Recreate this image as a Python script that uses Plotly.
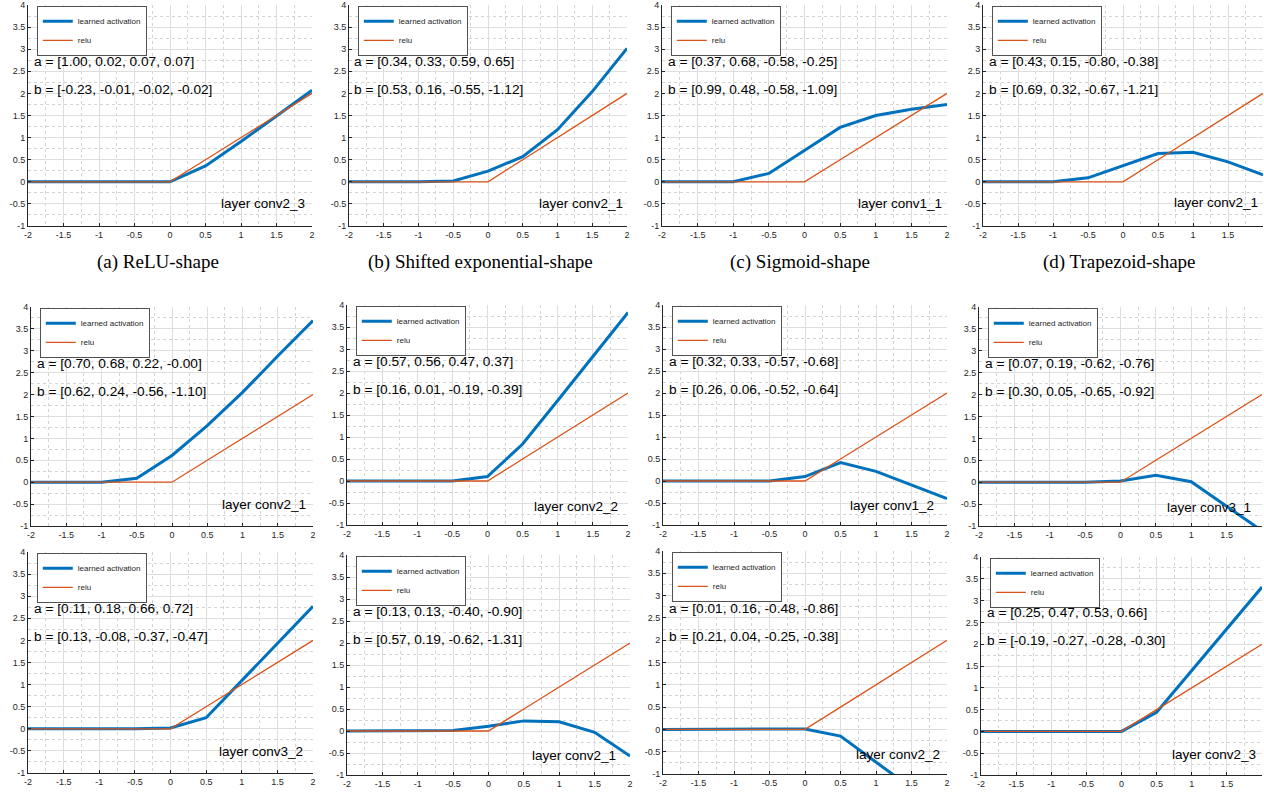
import plotly.graph_objects as go

# ---------------- data ----------------
x_vals = [-2, -1.5, -1, -0.5, 0, 0.5, 1, 1.5, 2]
relu_vals = [0, 0, 0, 0, 0, 0.5, 1, 1.5, 2]

learned = [
    [0, 0, 0, 0, 0, 0.36, 0.91, 1.49, 2.07],
    [0, 0, 0, 0.02, 0.24, 0.57, 1.18, 2.04, 3.02],
    [0, 0, 0, 0.19, 0.71, 1.23, 1.50, 1.64, 1.75],
    [0, 0, 0, 0.09, 0.36, 0.64, 0.67, 0.45, 0.16],
    [0, 0, 0, 0.09, 0.61, 1.29, 2.05, 2.88, 3.69],
    [0, 0, 0, 0, 0.10, 0.84, 1.83, 2.83, 3.83],
    [0, 0, 0, 0, 0.10, 0.42, 0.22, -0.09, -0.40],
    [0, 0, 0, 0, 0.03, 0.16, 0.01, -0.55, -1.11],
    [0, 0, 0, 0, 0.02, 0.25, 1.09, 1.93, 2.77],
    [0, 0, 0, 0.01, 0.11, 0.23, 0.21, -0.03, -0.57],
    [0, 0, 0, 0, 0.01, -0.15, -0.72, -1.30, -1.90],
    [0, 0, 0, 0, 0, 0.44, 1.39, 2.34, 3.31],
]

a_texts = [
    "a = [1.00, 0.02, 0.07, 0.07]", "a = [0.34, 0.33, 0.59, 0.65]",
    "a = [0.37, 0.68, -0.58, -0.25]", "a = [0.43, 0.15, -0.80, -0.38]",
    "a = [0.70, 0.68, 0.22, -0.00]", "a = [0.57, 0.56, 0.47, 0.37]",
    "a = [0.32, 0.33, -0.57, -0.68]", "a = [0.07, 0.19, -0.62, -0.76]",
    "a = [0.11, 0.18, 0.66, 0.72]", "a = [0.13, 0.13, -0.40, -0.90]",
    "a = [0.01, 0.16, -0.48, -0.86]", "a = [0.25, 0.47, 0.53, 0.66]",
]
b_texts = [
    "b = [-0.23, -0.01, -0.02, -0.02]", "b = [0.53, 0.16, -0.55, -1.12]",
    "b = [0.99, 0.48, -0.58, -1.09]", "b = [0.69, 0.32, -0.67, -1.21]",
    "b = [0.62, 0.24, -0.56, -1.10]", "b = [0.16, 0.01, -0.19, -0.39]",
    "b = [0.26, 0.06, -0.52, -0.64]", "b = [0.30, 0.05, -0.65, -0.92]",
    "b = [0.13, -0.08, -0.37, -0.47]", "b = [0.57, 0.19, -0.62, -1.31]",
    "b = [0.21, 0.04, -0.25, -0.38]", "b = [-0.19, -0.27, -0.28, -0.30]",
]
layer_names = [
    "layer conv2_3", "layer conv2_1", "layer conv1_1", "layer conv2_1",
    "layer conv2_1", "layer conv2_2", "layer conv1_2", "layer conv3_1",
    "layer conv3_2", "layer conv2_1", "layer conv2_2", "layer conv2_3",
]
layer_x = [0.69, 0.71, 0.72, 0.70, 0.68, 0.64, 0.61, 0.63, 0.65, 0.59, 0.69, 0.69]
layer_y = [-0.48, -0.48, -0.50, -0.46, -0.52, -0.59, -0.55, -0.57, -0.52, -0.55, -0.57, -0.54]

captions = ["(a) ReLU-shape", "(b) Shifted exponential-shape",
            "(c) Sigmoid-shape", "(d) Trapezoid-shape"]
caption_x = [158, 480, 800, 1119]

x_ticks = [-2, -1.5, -1, -0.5, 0, 0.5, 1, 1.5, 2]
x_ticklabels = ["-2", "-1.5", "-1", "-0.5", "0", "0.5", "1", "1.5", "2"]
y_ticks = [-1, -0.5, 0, 0.5, 1, 1.5, 2, 2.5, 3, 3.5, 4]
y_ticklabels = ["-1", "-0.5", "0", "0.5", "1", "1.5", "2", "2.5", "3", "3.5", "4"]

# ---------------- layout (pixel boxes: left, right, top, bottom) ----------------
W, H = 1264, 795
boxes = [
    (28, 312, 5, 226), (349, 627, 5, 226), (662, 947, 5, 226), (983, 1263, 5, 226),
    (31, 313, 307, 526), (347, 628, 305, 525), (663, 947, 305, 525), (979, 1262, 307, 526),
    (28, 313, 552, 773), (347, 630, 555, 775), (663, 947, 551, 774), (981, 1262, 557, 775),
]

BLUE = "#0072BD"
ORANGE = "#D95319"
AXC = "#262626"
FONT = "Liberation Sans, Arial, Helvetica, sans-serif"

fig = go.Figure()
layout = dict(
    width=W, height=H, margin=dict(l=0, r=0, t=0, b=0),
    paper_bgcolor="white", plot_bgcolor="white",
    template="none", font=dict(family=FONT, color=AXC),
    annotations=[],
)

for i in range(12):
    n = i + 1
    sfx = "" if n == 1 else str(n)
    L, R, T, B = boxes[i]
    lg = "legend" if n == 1 else f"legend{n}"
    fig.add_trace(go.Scatter(
        x=x_vals, y=learned[i], mode="lines", name="learned activation",
        line=dict(color=BLUE, width=3), xaxis="x" + sfx, yaxis="y" + sfx,
        legend=lg, showlegend=True))
    fig.add_trace(go.Scatter(
        x=x_vals, y=relu_vals, mode="lines", name="relu",
        line=dict(color=ORANGE, width=1.3), xaxis="x" + sfx, yaxis="y" + sfx,
        legend=lg, showlegend=True))

    common = dict(
        showgrid=True, gridcolor="#dedede", gridwidth=1, zeroline=False,
        showline=True, linecolor=AXC, linewidth=1, mirror=False,
        ticks="inside", ticklen=3, tickcolor=AXC, tickwidth=0.8,
        tickfont=dict(size=9, color=AXC, family=FONT),
        automargin=False, fixedrange=True,
    )
    layout["xaxis" + sfx] = dict(
        common, domain=[L / W, R / W], range=[-2, 2], anchor="y" + sfx,
        tickvals=x_ticks, ticktext=x_ticklabels,
        minor=dict(dtick=0.25, tick0=-2, showgrid=True, gridcolor="#d4d4d4",
                   griddash="dot", gridwidth=1, ticks=""))
    layout["yaxis" + sfx] = dict(
        common, domain=[1 - B / H, 1 - T / H], range=[-1, 4], anchor="x" + sfx,
        tickvals=y_ticks, ticktext=y_ticklabels,
        minor=dict(dtick=0.25, tick0=-1, showgrid=True, gridcolor="#d4d4d4",
                   griddash="dot", gridwidth=1, ticks=""))
    layout[lg] = dict(
        x=(L + 9) / W, y=1 - (T + 1) / H, xanchor="left", yanchor="top",
        bgcolor="white", bordercolor=AXC, borderwidth=0.8,
        font=dict(size=8, color=AXC, family=FONT), itemwidth=30,
        tracegroupgap=0, traceorder="normal")

    for txt, yv in ((a_texts[i], 2.72), (b_texts[i], 2.08)):
        layout["annotations"].append(dict(
            x=-1.95, y=yv, xref="x" + sfx, yref="y" + sfx, text=txt,
            showarrow=False, xanchor="left", yanchor="middle",
            font=dict(size=13.7, color="black", family=FONT)))
    layout["annotations"].append(dict(
        x=layer_x[i], y=layer_y[i], xref="x" + sfx, yref="y" + sfx,
        text=layer_names[i], showarrow=False, xanchor="left", yanchor="middle",
        font=dict(size=13.5, color="black", family=FONT)))

for c, cx in zip(captions, caption_x):
    layout["annotations"].append(dict(
        x=cx / W, y=1 - 262 / H, xref="paper", yref="paper", text=c,
        showarrow=False, xanchor="center", yanchor="middle",
        font=dict(size=19, color="black",
                  family="Liberation Serif, Times New Roman, serif")))

fig.update_layout(**layout)
fig.write_html("out.html",
               config={"displayModeBar": False},
               post_script="document.body.style.margin='0px';"
                           "document.body.style.overflow='hidden';")
